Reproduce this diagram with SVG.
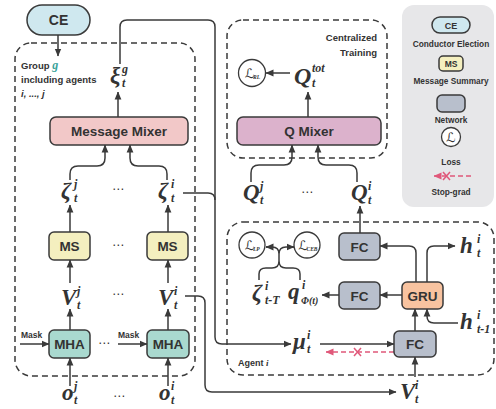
<svg xmlns="http://www.w3.org/2000/svg" width="496" height="409" viewBox="0 0 496 409">
  <style>
    .box { stroke: #3a3a3a; stroke-width: 1.5; }
    .grp { fill: none; stroke: #3a3a3a; stroke-width: 1.5; stroke-dasharray: 6 4; }
    .wire { fill: none; stroke: #3a3a3a; stroke-width: 1.5; }
    .arr { marker-end: url(#ah); }
    .sg { fill: none; stroke: #e0587a; stroke-width: 1.5; stroke-dasharray: 5 3; }
    .lbl { font-family: "Liberation Sans", Arial, sans-serif; font-weight: bold; fill: #333; text-anchor: middle; }
    .note { font-family: "Liberation Sans", Arial, sans-serif; font-weight: bold; fill: #333; }
    .m { font-family: "Liberation Serif", "DejaVu Serif", serif; font-style: italic; font-weight: bold; fill: #333; font-size: 23px; }
    .s { font-size: 12px; }
    .dots { font-family: "DejaVu Sans", sans-serif; fill: #333; font-size: 12px; text-anchor: middle; }
    .loss { fill: #fff; stroke: #3a3a3a; stroke-width: 1.3; }
    .L { font-family: "DejaVu Serif", "DejaVu Sans", serif; fill: #333; font-size: 13px; }
    .Ls { font-family: "Liberation Serif", serif; font-style: italic; font-weight: bold; fill: #333; font-size: 5.5px; }
  </style>
  <defs>
    <marker id="ah" viewBox="0 0 8 8" refX="7.5" refY="4" markerWidth="8" markerHeight="8" markerUnits="userSpaceOnUse" orient="auto">
      <path d="M0,0.6 L8,4 L0,7.4 z" fill="#3a3a3a"/>
    </marker>
    <marker id="ahr" viewBox="0 0 8 8" refX="7.5" refY="4" markerWidth="8" markerHeight="8" markerUnits="userSpaceOnUse" orient="auto">
      <path d="M0,0.6 L8,4 L0,7.4 z" fill="#e0587a"/>
    </marker>
  </defs>

  <rect width="496" height="409" fill="#fff"/>

  <!-- group frames -->
  <g id="frames">
    <rect class="grp" x="15" y="43" width="180" height="333" rx="16"/>
    <rect class="grp" x="227" y="20" width="160" height="138" rx="16"/>
    <rect class="grp" x="227" y="222" width="267" height="153" rx="16"/>
    <text class="note" font-size="9.5"><tspan x="21" y="69">Group </tspan><tspan fill="#3aa39a" font-family="Liberation Serif, serif" font-style="italic" font-size="12">g</tspan></text>
    <text class="note" font-size="9.5" x="21" y="83">including agents</text>
    <text class="note" font-size="9.5" x="21" y="97" font-family="Liberation Serif, serif" font-style="italic">i, ..., j</text>
    <text class="note" font-size="9.5" x="377" y="41" text-anchor="end">Centralized</text>
    <text class="note" font-size="9.5" x="377" y="56" text-anchor="end">Training</text>
    <text class="note" font-size="9" x="238" y="366">Agent <tspan font-family="Liberation Serif, serif" font-style="italic">i</tspan></text>
    <text class="note" font-size="8.5" x="21" y="338">Mask</text>
    <text class="note" font-size="8.5" x="118" y="338">Mask</text>
  </g>

  <!-- legend -->
  <g id="legend">
    <rect x="402" y="5" width="92" height="202" rx="12" fill="#e7e7e9"/>
    <rect class="box" x="432" y="17" width="38" height="16" rx="8" fill="#cfe8ef"/>
    <text class="lbl" x="451" y="28.5" font-size="9">CE</text>
    <text class="lbl" x="451" y="46.5" font-size="8.3">Conductor Election</text>
    <rect class="box" x="439" y="56" width="24" height="15" rx="4" fill="#f4efbf"/>
    <text class="lbl" x="451" y="67" font-size="8.5">MS</text>
    <text class="lbl" x="451" y="84" font-size="8.3">Message Summary</text>
    <rect class="box" x="437" y="95" width="28" height="17" rx="5" fill="#b8bfcc"/>
    <text class="lbl" x="451" y="122.5" font-size="8.3">Network</text>
    <circle class="loss" cx="451" cy="137" r="9.5"/>
    <text class="L" x="451" y="141.5" text-anchor="middle" font-size="12">ℒ</text>
    <text class="lbl" x="451" y="165" font-size="8.3">Loss</text>
    <path class="sg" d="M471,176 H434" marker-end="url(#ahr)"/>
    <path d="M443,172 L450,180 M450,172 L443,180" stroke="#e0587a" stroke-width="1.5"/>
    <text class="lbl" x="451" y="195" font-size="8.3">Stop-grad</text>
  </g>

  <!-- connectors -->
  <g id="connectors">
    <path class="wire arr" d="M58,35 V56"/>
    <path class="wire arr" d="M118,117 V92"/>
    <path class="wire" d="M120,64 V27 Q120,20 127,20 H208 Q215,20 215,27 V337 Q215,344 222,344 H291" marker-end="url(#ah)"/>
    <path class="wire" d="M183,193 H208 Q215,193 215,200"/>
    <path class="wire" d="M185,296 H198 Q205,296 205,303 V385 Q205,392 212,392 H396" marker-end="url(#ah)"/>
    <path class="wire arr" d="M70,180 V174 Q70,166 78,166 H97 Q105,166 105,158 V145"/>
    <path class="wire arr" d="M167,180 V174 Q167,166 159,166 H138 Q130,166 130,158 V145"/>
    <path class="wire arr" d="M70,232 V205"/>
    <path class="wire arr" d="M168,232 V205"/>
    <path class="wire arr" d="M70,283 V260"/>
    <path class="wire arr" d="M168,283 V260"/>
    <path class="wire arr" d="M70,330 V309"/>
    <path class="wire arr" d="M168,330 V309"/>
    <path class="wire arr" d="M20,344 H49"/>
    <path class="wire arr" d="M118,344 H147"/>
    <path class="wire arr" d="M70,386 V358"/>
    <path class="wire arr" d="M168,386 V358"/>
    <path class="wire arr" d="M290,73 H266"/>
    <path class="wire arr" d="M308,117 V92"/>
    <path class="wire arr" d="M251,182 V173 Q251,165 259,165 H284 Q292,165 292,157 V145"/>
    <path class="wire arr" d="M357,182 V173 Q357,165 349,165 H326 Q318,165 318,157 V145"/>
    <path class="wire arr" d="M360,233 V206"/>
    <path class="wire arr" d="M416,282 V253 Q416,246 409,246 H380"/>
    <path class="wire arr" d="M427,282 V253 Q427,246 434,246 H455"/>
    <path class="wire arr" d="M402,295 H380"/>
    <path class="wire arr" d="M339,295 H322"/>
    <path class="wire arr" d="M415,331 V309"/>
    <path class="wire arr" d="M458,323 H434 Q427,323 427,316 V309"/>
    <path class="wire arr" d="M415,377 V357"/>
    <path class="wire arr" d="M320,344 H394"/>
    <path class="sg" d="M394,352 H326" marker-end="url(#ahr)"/>
    <path d="M354,348 L361,356 M361,348 L354,356" stroke="#e0587a" stroke-width="1.5"/>
    <path class="wire" d="M259,280 V274 Q259,268 266,268 H272 Q279,268 279,261 M300,280 V274 Q300,268 293,268 H286 Q279,268 279,261 V254 Q279,247 272,247 H266 M279,254 Q279,247 286,247 H294"/>
    <path class="wire arr" d="M270,247 H266"/>
    <path class="wire arr" d="M290,247 H294"/>
  </g>

  <!-- nodes -->
  <g id="ce">
    <rect class="box" x="27" y="5" width="63" height="30" rx="15" fill="#cfe8ef"/>
    <text class="lbl" x="58.5" y="25" font-size="14">CE</text>
  </g>
  <g id="message-mixer">
    <rect class="box" x="50" y="117" width="138" height="28" rx="6" fill="#f2c8c8"/>
    <text class="lbl" x="119" y="136" font-size="13.5">Message Mixer</text>
  </g>
  <g id="ms-j">
    <rect class="box" x="49" y="232" width="41" height="28" rx="5" fill="#f4efbf"/>
    <text class="lbl" x="69.5" y="251" font-size="13.5">MS</text>
  </g>
  <g id="ms-i">
    <rect class="box" x="147" y="232" width="41" height="28" rx="5" fill="#f4efbf"/>
    <text class="lbl" x="167.5" y="251" font-size="13.5">MS</text>
  </g>
  <g id="mha-j">
    <rect class="box" x="49" y="330" width="41" height="28" rx="5" fill="#a9d9cf"/>
    <text class="lbl" x="69.5" y="349" font-size="13.5">MHA</text>
  </g>
  <g id="mha-i">
    <rect class="box" x="147" y="330" width="42" height="28" rx="5" fill="#a9d9cf"/>
    <text class="lbl" x="168" y="349" font-size="13.5">MHA</text>
  </g>
  <g id="q-mixer">
    <rect class="box" x="237" y="117" width="144" height="28" rx="6" fill="#dcb2cc"/>
    <text class="lbl" x="309" y="136" font-size="13.5">Q Mixer</text>
  </g>
  <g id="fc-q">
    <rect class="box" x="339" y="233" width="41" height="27" rx="5" fill="#b8bfcc"/>
    <text class="lbl" x="359.5" y="251.5" font-size="13.5">FC</text>
  </g>
  <g id="fc-q-phi">
    <rect class="box" x="339" y="282" width="41" height="27" rx="5" fill="#b8bfcc"/>
    <text class="lbl" x="359.5" y="300.5" font-size="13.5">FC</text>
  </g>
  <g id="gru">
    <rect class="box" x="402" y="282" width="41" height="27" rx="5" fill="#f8c3a0"/>
    <text class="lbl" x="422.5" y="300.5" font-size="13.5">GRU</text>
  </g>
  <g id="fc-in">
    <rect class="box" x="394" y="331" width="42" height="26" rx="5" fill="#b8bfcc"/>
    <text class="lbl" x="415" y="349" font-size="13.5">FC</text>
  </g>
  <g id="loss-rl">
    <circle class="loss" cx="252" cy="73" r="13.5"/>
    <text class="L" x="245" y="77.5">ℒ</text><text class="Ls" x="253" y="79">RL</text>
  </g>
  <g id="loss-lp">
    <circle class="loss" cx="252" cy="245" r="13"/>
    <text class="L" x="245" y="249.5">ℒ</text><text class="Ls" x="253" y="251">LP</text>
  </g>
  <g id="loss-ceb">
    <circle class="loss" cx="307" cy="245" r="13"/>
    <text class="L" x="298.5" y="249.5">ℒ</text><text class="Ls" x="306.5" y="251">CEB</text>
  </g>

  <!-- variables -->
  <g id="symbols">
    <text class="m"><tspan x="110" y="83">ξ</tspan><tspan class="s" x="122" y="73">g</tspan><tspan class="s" x="122" y="87">t</tspan></text>
    <text class="m"><tspan x="61" y="198">ζ</tspan><tspan class="s" x="74" y="188">j</tspan><tspan class="s" x="74" y="201.5">t</tspan></text>
    <text class="m"><tspan x="158" y="198">ζ</tspan><tspan class="s" x="171" y="188">i</tspan><tspan class="s" x="171" y="201.5">t</tspan></text>
    <text class="m"><tspan x="61" y="305">V</tspan><tspan class="s" x="77" y="295">j</tspan><tspan class="s" x="77" y="308.5">t</tspan></text>
    <text class="m"><tspan x="158" y="305">V</tspan><tspan class="s" x="174" y="295">i</tspan><tspan class="s" x="174" y="308.5">t</tspan></text>
    <text class="m"><tspan x="62" y="400">o</tspan><tspan class="s" x="74" y="390">j</tspan><tspan class="s" x="74" y="403.5">t</tspan></text>
    <text class="m"><tspan x="159" y="400">o</tspan><tspan class="s" x="171" y="390">i</tspan><tspan class="s" x="171" y="403.5">t</tspan></text>
    <text class="m"><tspan x="243" y="200">Q</tspan><tspan class="s" x="260" y="190">j</tspan><tspan class="s" x="260" y="203.5">t</tspan></text>
    <text class="m"><tspan x="351" y="200">Q</tspan><tspan class="s" x="368" y="190">i</tspan><tspan class="s" x="368" y="203.5">t</tspan></text>
    <text class="m"><tspan x="294" y="84" font-size="24">Q</tspan><tspan class="s" x="312" y="72">tot</tspan><tspan class="s" x="312" y="87">t</tspan></text>
    <text class="m"><tspan x="293" y="349">μ</tspan><tspan class="s" x="307" y="339">i</tspan><tspan class="s" x="307" y="352.5">t</tspan></text>
    <text class="m"><tspan x="460" y="253">h</tspan><tspan class="s" x="477" y="243">i</tspan><tspan class="s" x="477" y="256.5">t</tspan></text>
    <text class="m"><tspan x="460" y="329">h</tspan><tspan class="s" x="477" y="319">i</tspan><tspan class="s" x="477" y="332.5">t-1</tspan></text>
    <text class="m"><tspan x="252" y="300">ζ</tspan><tspan class="s" x="265" y="290">i</tspan><tspan class="s" x="265" y="303.5">t-T</tspan></text>
    <text class="m"><tspan x="288" y="299">q</tspan><tspan class="s" x="302" y="289">i</tspan><tspan x="301" y="303.5" font-size="10">Φ(t)</tspan></text>
    <text class="m"><tspan x="400" y="399">V</tspan><tspan class="s" x="415" y="389">i</tspan><tspan class="s" x="415" y="402.5">t</tspan></text>
    <text class="dots" x="118" y="193">⋯</text>
    <text class="dots" x="118" y="249">⋯</text>
    <text class="dots" x="118" y="298">⋯</text>
    <text class="dots" x="104" y="347">⋯</text>
    <text class="dots" x="119" y="400">⋯</text>
    <text class="dots" x="307" y="196">⋯</text>
  </g>
</svg>
